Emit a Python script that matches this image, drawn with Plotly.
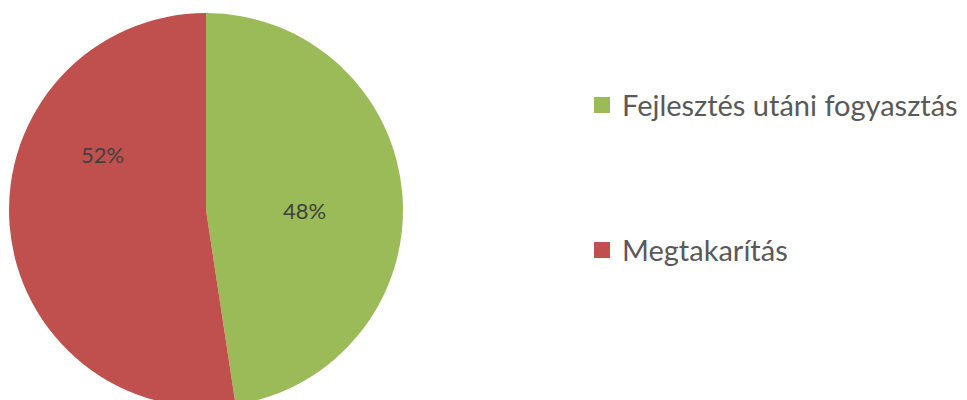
import plotly.graph_objects as go

# slice data (share of consumption)
labels = ["Fejlesztés utáni fogyasztás", "Megtakarítás"]
values = [47.6, 52.4]
colors = ["#9BBB59", "#C0504D"]

# where the original chart put its data labels (paper coords)
label_pos = [(0.307, 0.4995), (0.098, 0.642)]

W, H = 967, 415

fig = go.Figure()

fig.add_trace(go.Pie(
    labels=labels,
    values=values,
    sort=False,
    direction="clockwise",
    rotation=0,
    marker=dict(colors=colors, line=dict(width=0)),
    textinfo="none",
    domain=dict(x=[1 / W, 395 / W], y=[0, 1]),
    showlegend=False,
    hoverinfo="label+percent",
))

total = sum(values)
for v, (px, py) in zip(values, label_pos):
    fig.add_annotation(
        x=px, y=py, xref="paper", yref="paper",
        xanchor="center", yanchor="middle",
        text=f"{round(v / total * 100)}%",
        showarrow=False,
        font=dict(family="Lato", size=22, color="#404040"),
    )

# legend entries, one legend per item so they can be spaced like the original
legend_y = [0.766, 0.398]
for i, (lab, col) in enumerate(zip(labels, colors)):
    fig.add_trace(go.Scatter(
        x=[None], y=[None],
        mode="markers",
        marker=dict(symbol="square", size=18, color=col),
        name=lab,
        legend="legend" if i == 0 else f"legend{i + 1}",
        showlegend=True,
        hoverinfo="skip",
    ))

leg = dict(
    x=574 / W, xanchor="left", yanchor="middle",
    font=dict(family="Lato", size=29, color="#595959"),
    bgcolor="rgba(0,0,0,0)",
)

fig.update_layout(
    width=W,
    height=H,
    margin=dict(l=0, r=0, t=5, b=16),
    paper_bgcolor="white",
    plot_bgcolor="white",
    xaxis=dict(visible=False),
    yaxis=dict(visible=False),
    legend=dict(leg, y=legend_y[0]),
    legend2=dict(leg, y=legend_y[1]),
)

fig.write_html("out.html")
